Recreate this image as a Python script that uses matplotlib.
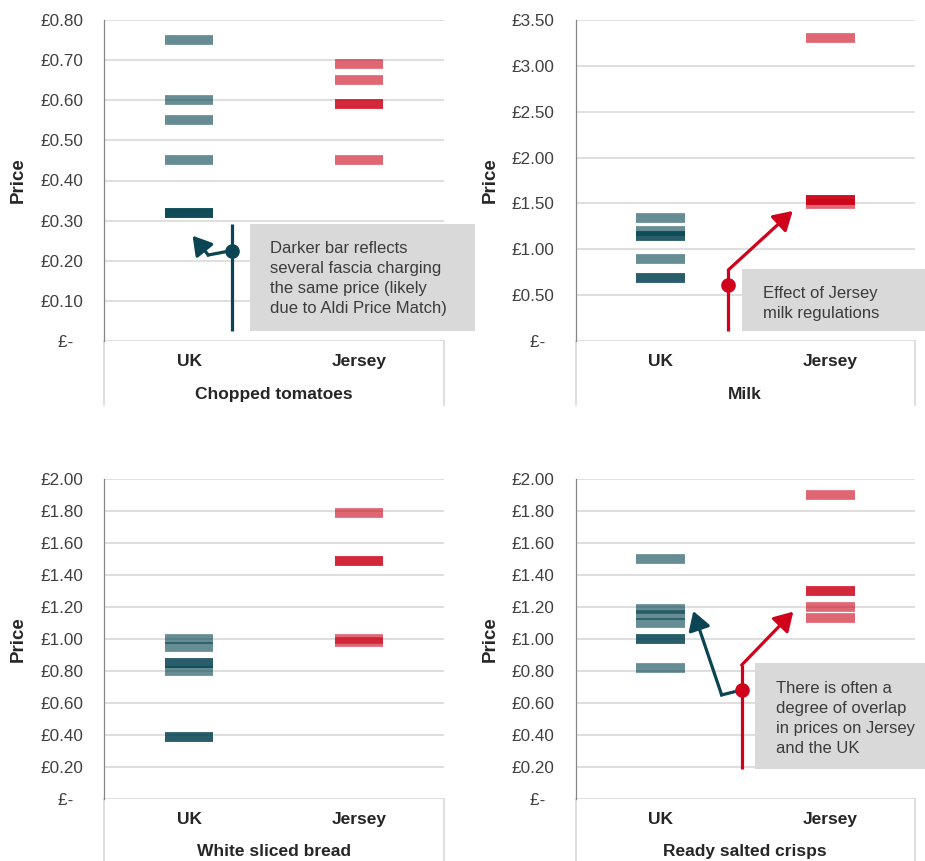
import numpy as np
import matplotlib.pyplot as plt
from matplotlib.patches import Rectangle
from matplotlib.ticker import FuncFormatter, MultipleLocator

plt.rcParams['font.family'] = ['Liberation Sans', 'DejaVu Sans']

# prices by fascia (repeated values = several fascia at the same price)
regions = ['UK', 'Jersey']

tomatoes_uk = [0.75, 0.60, 0.55, 0.45, 0.32, 0.32, 0.32]
tomatoes_jersey = [0.69, 0.65, 0.59, 0.59, 0.45]

milk_uk = [1.34, 1.20, 1.15, 1.15, 0.89, 0.69, 0.69]
milk_jersey = [3.30, 1.54, 1.54, 1.54, 1.49]

bread_uk = [1.00, 0.95, 0.85, 0.85, 0.80, 0.39, 0.39]
bread_jersey = [1.79, 1.49, 1.49, 1.00, 0.98]

crisps_uk = [1.50, 1.19, 1.15, 1.10, 1.00, 1.00, 0.82]
crisps_jersey = [1.90, 1.30, 1.30, 1.20, 1.13]

products = ['Chopped tomatoes', 'Milk', 'White sliced bread', 'Ready salted crisps']
y_max = [0.8, 3.5, 2.0, 2.0]
y_step = [0.1, 0.5, 0.2, 0.2]

TEAL = '#003f4d'
RED = '#cb0016'
TEAL_LINE = '#0b4452'
RED_LINE = '#d0021b'
BOX = '#d9d9d9'
GRID = '#d9d9d9'
TXT = '#404040'

ARROW = dict(arrowstyle='-|>,head_length=0.75,head_width=0.45', lw=2.3,
             mutation_scale=15, shrinkA=0, shrinkB=0)


def money(v, pos):
    if abs(v) < 1e-9:
        return '£-  '
    return '£%.2f' % v


fig = plt.figure(figsize=(9.25, 8.61), dpi=100)
W, H = 925, 861
boxes = [(104, 20, 340, 321), (575.5, 20, 339.5, 321),
         (104, 479.3, 340, 319.7), (575.5, 479.3, 339.5, 319.7)]
axes = []
for (x0, y0, w, h) in boxes:
    axes.append(fig.add_axes([x0 / W, 1 - (y0 + h) / H, w / W, h / H]))

data = [(tomatoes_uk, tomatoes_jersey), (milk_uk, milk_jersey),
        (bread_uk, bread_jersey), (crisps_uk, crisps_jersey)]

bar_w = 0.288
for i, ax in enumerate(axes):
    uk, jersey = data[i]
    ax.hlines(uk, 0 - bar_w / 2, 0 + bar_w / 2, colors=TEAL, alpha=0.6,
              linewidth=7.0, capstyle='butt', zorder=3)
    ax.hlines(jersey, 1 - bar_w / 2, 1 + bar_w / 2, colors=RED, alpha=0.6,
              linewidth=7.0, capstyle='butt', zorder=3)

    ax.set_xlim(-0.5, 1.5)
    ax.set_ylim(0, y_max[i])
    ax.yaxis.set_major_locator(MultipleLocator(y_step[i]))
    ax.yaxis.set_major_formatter(FuncFormatter(money))
    ax.grid(axis='y', color=GRID, linewidth=1.2, zorder=0)
    ax.set_axisbelow(True)

    for s in ['top', 'right', 'bottom']:
        ax.spines[s].set_visible(False)
    ax.spines['left'].set_color('#868686')
    ax.spines['left'].set_linewidth(0.9)

    ax.tick_params(axis='y', length=0, pad=15, labelsize=12.3, labelcolor=TXT)
    ax.set_xticks([0, 1], regions)
    ax.tick_params(axis='x', length=0, pad=15, labelsize=12.5, labelcolor='#262626')
    for lab in ax.get_xticklabels():
        lab.set_fontweight('bold')
        lab.set_va('center')

    ax.set_ylabel('Price', fontsize=13.5, fontweight='bold', color='#262626', va='center')
    ax.yaxis.set_label_coords(-85.4 / 340, 0.5)
    ax.set_xlabel(products[i], fontsize=12.5, fontweight='bold', color='#262626', va='center')
    ax.xaxis.set_label_coords(0.5, -53 / 321)

    # category axis box edges below the plot area
    for xe in [0, 1]:
        ax.plot([xe, xe], [0, -0.2 if i < 2 else -0.25], transform=ax.transAxes,
                color=GRID, linewidth=1.2, clip_on=False, zorder=1)

# callout: chopped tomatoes
ax = axes[0]
ax.add_patch(Rectangle((0.3588, 0.0257), 1.682 - 0.3588, 0.2916 - 0.0257,
                       facecolor=BOX, edgecolor='none', clip_on=False, zorder=4))
ax.text(0.476, 0.1563, 'Darker bar reflects\nseveral fascia charging\nthe same price (likely\ndue to Aldi Price Match)',
        fontsize=12, color='#3c3c3c', ha='left', va='center', linespacing=1.42, zorder=5)
ax.plot([0.253, 0.253], [0.0257, 0.2916], color=TEAL_LINE, lw=2.3, solid_capstyle='butt', zorder=5)
ax.plot([0.253, 0.1135], [0.2255, 0.2143], color=TEAL_LINE, lw=2.3, zorder=5)
ax.annotate('', xy=(0.021, 0.2624), xytext=(0.1135, 0.2143),
            arrowprops=dict(color=TEAL_LINE, **ARROW), zorder=5)
ax.plot([0.253], [0.2255], 'o', color=TEAL_LINE, markersize=9.5, zorder=6)

# callout: milk
ax = axes[1]
ax.add_patch(Rectangle((0.4826, 0.112), 1.5591 - 0.4826, 0.782 - 0.112,
                       facecolor=BOX, edgecolor='none', clip_on=False, zorder=4))
ax.text(0.6028, 0.411, 'Effect of Jersey\nmilk regulations',
        fontsize=12, color='#3c3c3c', ha='left', va='center', linespacing=1.42, zorder=5)
ax.plot([0.400, 0.400], [0.112, 0.774], color=RED_LINE, lw=2.3, solid_capstyle='butt', zorder=5)
ax.annotate('', xy=(0.7795, 1.4175), xytext=(0.400, 0.774),
            arrowprops=dict(color=RED_LINE, **ARROW), zorder=5)
ax.plot([0.400], [0.614], 'o', color=RED_LINE, markersize=9.5, zorder=6)

# callout: crisps
ax = axes[3]
ax.add_patch(Rectangle((0.557, 0.186), 1.559 - 0.557, 0.849 - 0.186,
                       facecolor=BOX, edgecolor='none', clip_on=False, zorder=4))
ax.text(0.679, 0.505, 'There is often a\ndegree of overlap\nin prices on Jersey\nand the UK',
        fontsize=12, color='#3c3c3c', ha='left', va='center', linespacing=1.42, zorder=5)
ax.plot([0.479, 0.361], [0.682, 0.651], color=TEAL_LINE, lw=2.3, zorder=5)
ax.annotate('', xy=(0.194, 1.176), xytext=(0.361, 0.651),
            arrowprops=dict(color=TEAL_LINE, **ARROW), zorder=5)
ax.plot([0.479, 0.479], [0.186, 0.838], color=RED_LINE, lw=2.3, solid_capstyle='butt', zorder=5)
ax.annotate('', xy=(0.783, 1.172), xytext=(0.479, 0.838),
            arrowprops=dict(color=RED_LINE, **ARROW), zorder=5)
ax.plot([0.479], [0.682], 'o', color=RED_LINE, markersize=9.5, zorder=6)

fig.savefig('out.png', dpi=100)
